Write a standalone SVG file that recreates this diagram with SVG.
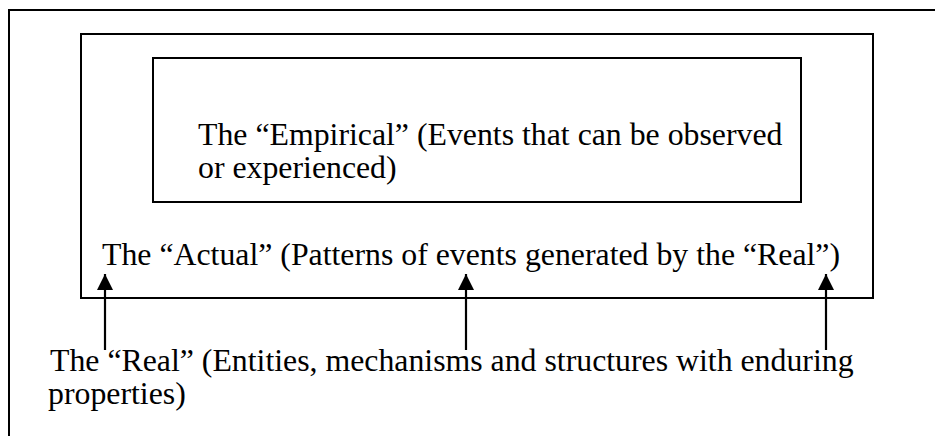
<svg xmlns="http://www.w3.org/2000/svg" width="935" height="436" viewBox="0 0 935 436">
  <style>
    .box { fill: none; stroke: #000; stroke-width: 2; }
    .label { font-family: "Liberation Serif", "Times New Roman", serif; font-size: 31.8px; fill: #000; }
    .arrow { stroke: #000; stroke-width: 2.2; fill: none; marker-end: url(#head); }
  </style>
  <defs>
    <marker id="head" viewBox="0 0 16 16" refX="16" refY="8" markerWidth="16" markerHeight="16" markerUnits="userSpaceOnUse" orient="auto">
      <path d="M0,0 L16,8 L0,16 Z" fill="#000"/>
    </marker>
  </defs>
  <rect width="935" height="436" fill="#fff"/>

  <g id="real">
    <path class="box" d="M9,436 V10 H935"/>
    <text class="label" x="50" y="371">The “Real” (Entities, mechanisms and structures with enduring</text>
    <text class="label" x="48" y="404">properties)</text>
  </g>

  <g id="actual">
    <rect class="box" x="81" y="34" width="792" height="264"/>
    <text class="label" x="102" y="265">The “Actual” (Patterns of events generated by the “Real”)</text>
  </g>

  <g id="empirical">
    <rect class="box" x="153" y="58" width="648" height="144"/>
    <text class="label" x="198" y="145">The “Empirical” (Events that can be observed</text>
    <text class="label" x="198" y="178">or experienced)</text>
  </g>

  <g id="connectors">
    <line class="arrow" x1="105" y1="350" x2="105" y2="274"/>
    <line class="arrow" x1="466" y1="350" x2="466" y2="274"/>
    <line class="arrow" x1="826" y1="350" x2="826" y2="274"/>
  </g>
</svg>
